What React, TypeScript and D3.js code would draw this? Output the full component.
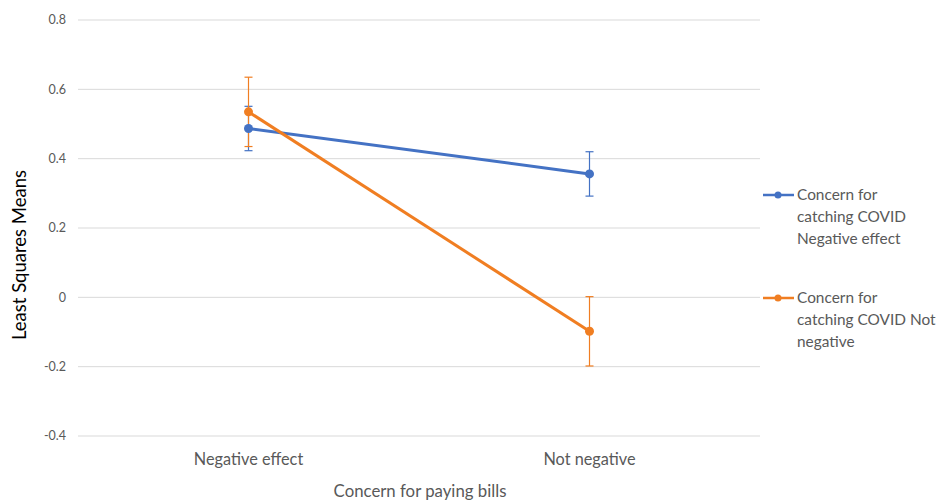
import * as d3 from 'd3';

const categories = ['Negative effect', 'Not negative'];
const seriesNames = ['Concern for catching COVID Negative effect', 'Concern for catching COVID Not negative'];
const legendLines = [
  ['Concern for', 'catching COVID', 'Negative effect'],
  ['Concern for', 'catching COVID Not', 'negative'],
];
const blueValues = [0.487, 0.356];
const blueErrors = [0.064, 0.064];
const orangeValues = [0.535, -0.098];
const orangeErrors = [0.1, 0.1];
const yTicks = [-0.4, -0.2, 0, 0.2, 0.4, 0.6, 0.8];
const colors = ['#4472C4', '#F07E22'];

const W = 939;
const H = 500;
const font = 'Lato, "Open Sans", sans-serif';

export default function App() {
  const x = d3.scaleBand<string>().domain(categories).range([78, 760]);
  const y = d3.scaleLinear().domain([-0.4, 0.8]).range([436, 20]);
  const line = d3
    .line<number>()
    .x((_, i) => x(categories[i])! + x.bandwidth() / 2)
    .y((d) => y(d));

  const series = [
    { name: seriesNames[0], values: blueValues, errors: blueErrors, color: colors[0] },
    { name: seriesNames[1], values: orangeValues, errors: orangeErrors, color: colors[1] },
  ];

  return (
    <svg width={W} height={H} style={{ position: 'absolute', left: 0, top: 0, background: '#fff' }}>
      {/* gridlines + y tick labels */}
      {yTicks.map((t) => (
        <g key={t}>
          <line x1={78} x2={760} y1={y(t)} y2={y(t)} stroke="#d9d9d9" strokeWidth={1} />
          <text x={66} y={y(t)} dy="0.35em" textAnchor="end" fontFamily={font} fontSize={12.5} fill="#595959">
            {t === 0 ? '0' : t.toFixed(1)}
          </text>
        </g>
      ))}

      {/* x labels */}
      {categories.map((c) => (
        <text key={c} x={x(c)! + x.bandwidth() / 2} y={465} textAnchor="middle" fontFamily={font} fontSize={16.3} fill="#595959">
          {c}
        </text>
      ))}

      {/* axis titles */}
      <text x={420} y={497} textAnchor="middle" fontFamily={font} fontSize={16.8} fill="#595959">
        Concern for paying bills
      </text>
      <text
        transform={`translate(26,255) rotate(-90)`}
        textAnchor="middle"
        fontFamily={font}
        fontSize={18.5}
        fill="#000"
      >
        Least Squares Means
      </text>

      {/* error bars */}
      {series.map((s) =>
        s.values.map((v, i) => {
          const cx = x(categories[i])! + x.bandwidth() / 2;
          return (
            <g key={s.name + i} stroke={s.color} strokeWidth={1.2}>
              <line x1={cx} x2={cx} y1={y(v + s.errors[i])} y2={y(v - s.errors[i])} />
              <line x1={cx - 4} x2={cx + 4} y1={y(v + s.errors[i])} y2={y(v + s.errors[i])} />
              <line x1={cx - 4} x2={cx + 4} y1={y(v - s.errors[i])} y2={y(v - s.errors[i])} />
            </g>
          );
        })
      )}

      {/* lines and markers */}
      {series.map((s) => (
        <g key={s.name}>
          <path d={line(s.values)!} fill="none" stroke={s.color} strokeWidth={3} />
          {s.values.map((v, i) => (
            <circle key={i} cx={x(categories[i])! + x.bandwidth() / 2} cy={y(v)} r={4.5} fill={s.color} />
          ))}
        </g>
      ))}

      {/* legend */}
      {series.map((s, k) => {
        const ly = 195 + k * 103;
        return (
          <g key={s.name}>
            <line x1={763} x2={794} y1={ly} y2={ly} stroke={s.color} strokeWidth={2.5} />
            <circle cx={778} cy={ly} r={3.5} fill={s.color} />
            {legendLines[k].map((t, j) => (
              <text key={j} x={797} y={ly + j * 22} dy="0.35em" fontFamily={font} fontSize={15.4} fill="#595959">
                {t}
              </text>
            ))}
          </g>
        );
      })}
    </svg>
  );
}
